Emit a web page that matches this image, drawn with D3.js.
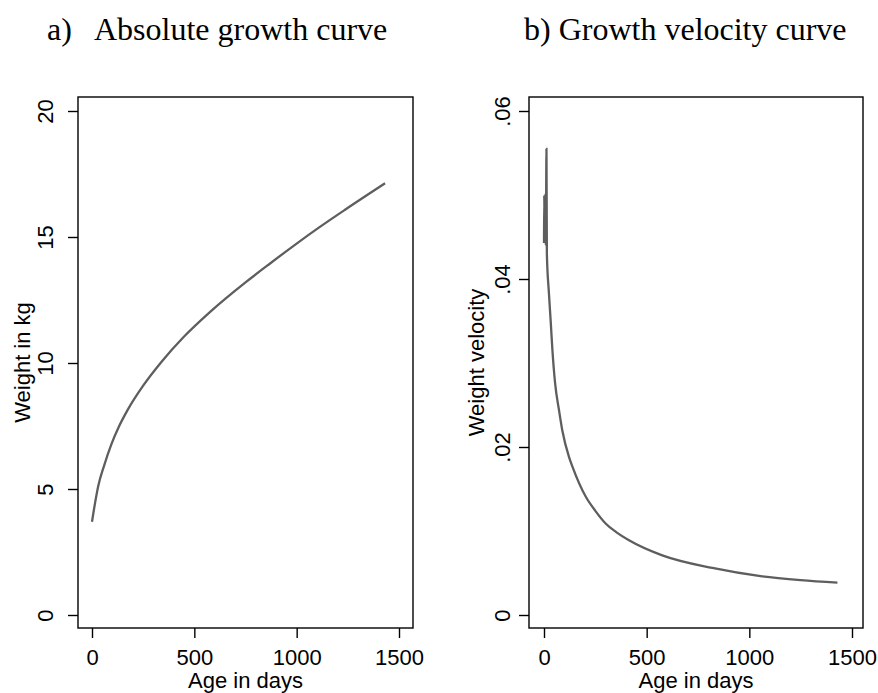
<!DOCTYPE html>
<html>
<head>
<meta charset="utf-8">
<script src="https://cdn.jsdelivr.net/npm/d3@7"></script>
<style>
  body { margin: 0; background: #fff; }
  svg { display: block; }
  .tick text { font-family: "Liberation Sans", Arial, sans-serif; font-size: 22px; fill: #000; }
</style>
</head>
<body>
<svg id="chart"></svg>
<script>
// absolute growth: age (days) vs weight (kg)
let growthAge = [0, 15, 30, 60, 95, 130, 175, 250, 340, 450, 580, 750, 870, 990, 1110, 1240, 1432]
let growthWeight = [3.7, 4.45, 5.1, 5.95, 6.78, 7.45, 8.15, 9.1, 10.05, 11.05, 12.05, 13.2, 13.95, 14.68, 15.38, 16.1, 17.13]

// growth velocity, note the jagged start
let velAge = [0, 1, 4, 7, 9, 12, 14, 24, 33, 40, 54, 73, 89, 122, 138, 203, 250, 300, 350, 414, 576, 820, 1063, 1250, 1429]
let velValue = [0.0443, 0.0500, 0.0448, 0.0482, 0.0440, 0.0555, 0.0430, 0.0383, 0.0348, 0.0319, 0.0276, 0.0244, 0.0220, 0.0188, 0.0177, 0.0141, 0.0124, 0.0109, 0.0099, 0.0089, 0.0071, 0.0056, 0.0046, 0.00415, 0.00385]

let xTicks = [0, 500, 1000, 1500]
let growthTicks = [0, 5, 10, 15, 20]
let velTicks = [0, 0.02, 0.04, 0.06]

let width = 878;
let height = 693;

const svg = d3.select('#chart')
    .attr('width', width)
    .attr('height', height)

let panels = [
    {
        frame: {left: 78, top: 97, right: 413, bottom: 628},
        x: d3.scaleLinear().domain([0, 1500]).range([92, 399]),
        y: d3.scaleLinear().domain([0, 20]).range([615, 111]),
        ticks: growthTicks,
        fmt: d => d3.format('d')(d),
        labelOffset: -25,
        yTitle: 'Weight in kg',
        yTitleX: 30,
        xs: growthAge,
        ys: growthWeight
    },
    {
        frame: {left: 529, top: 97, right: 863, bottom: 628},
        x: d3.scaleLinear().domain([0, 1500]).range([544, 852]),
        y: d3.scaleLinear().domain([0, 0.06]).range([615, 111]),
        ticks: velTicks,
        fmt: d => d === 0 ? '0' : d3.format('.2f')(d).replace(/^0/, ''),
        labelOffset: -19,
        yTitle: 'Weight velocity',
        yTitleX: 484,
        xs: velAge,
        ys: velValue
    }
]

panels.forEach(p => {
    let f = p.frame

    // plot region outline
    svg.append('rect')
        .attr('x', f.left)
        .attr('y', f.top)
        .attr('width', f.right - f.left)
        .attr('height', f.bottom - f.top)
        .attr('fill', 'none')
        .attr('stroke', '#000')
        .attr('stroke-width', 1.4)

    let yAxis = svg.append('g')
        .attr('transform', `translate(${f.left},0)`)
        .call(d3.axisLeft(p.y).tickValues(p.ticks).tickFormat(p.fmt).tickSize(10).tickSizeOuter(0))
    yAxis.select('.domain').remove()
    yAxis.selectAll('.tick line').attr('stroke', '#000').attr('stroke-width', 1.4)
    yAxis.selectAll('.tick text')
        .attr('transform', 'rotate(-90)')
        .attr('x', 0)
        .attr('y', p.labelOffset)
        .attr('dy', 0)
        .attr('text-anchor', 'middle')

    let xAxis = svg.append('g')
        .attr('transform', `translate(0,${f.bottom})`)
        .call(d3.axisBottom(p.x).tickValues(xTicks).tickFormat(d3.format('d')).tickSize(10).tickSizeOuter(0))
    xAxis.select('.domain').remove()
    xAxis.selectAll('.tick line').attr('stroke', '#000').attr('stroke-width', 1.4)
    xAxis.selectAll('.tick text')
        .attr('y', 37)
        .attr('dy', 0)

    svg.append('text')
        .attr('transform', `translate(${p.yTitleX},${(f.top + f.bottom) / 2}) rotate(-90)`)
        .attr('text-anchor', 'middle')
        .style('font-family', '"Liberation Sans", Arial, sans-serif')
        .style('font-size', '22px')
        .text(p.yTitle)

    svg.append('text')
        .attr('x', (f.left + f.right) / 2)
        .attr('y', 688)
        .attr('text-anchor', 'middle')
        .style('font-family', '"Liberation Sans", Arial, sans-serif')
        .style('font-size', '22px')
        .text('Age in days')

    let line = d3.line()
        .x(d => p.x(d[0]))
        .y(d => p.y(d[1]))
        .curve(d3.curveMonotoneX)

    svg.append('path')
        .datum(d3.zip(p.xs, p.ys))
        .attr('d', line)
        .attr('fill', 'none')
        .attr('stroke', '#5e5e5e')
        .attr('stroke-width', 2.3)
})

// titles
let titleFont = '"Liberation Serif", "Times New Roman", serif'
svg.append('text').attr('x', 47).attr('y', 40)
    .style('font-family', titleFont).style('font-size', '32px')
    .text('a)')
svg.append('text').attr('x', 94).attr('y', 40)
    .style('font-family', titleFont).style('font-size', '32px')
    .text('Absolute growth curve')
svg.append('text').attr('x', 524).attr('y', 40)
    .style('font-family', titleFont).style('font-size', '32px')
    .text('b) Growth velocity curve')
</script>
</body>
</html>
